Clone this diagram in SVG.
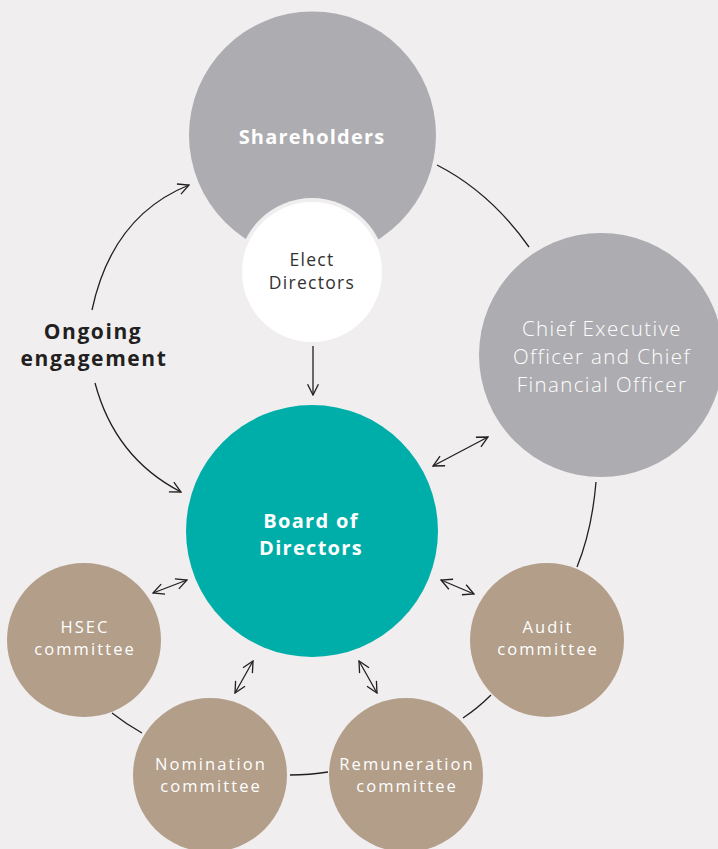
<svg xmlns="http://www.w3.org/2000/svg" width="718" height="849" viewBox="0 0 718 849">
<defs>
<marker id="ah" viewBox="0 0 12 12" refX="11" refY="6" markerWidth="13" markerHeight="13" markerUnits="userSpaceOnUse" orient="auto-start-reverse">
<path d="M1,1 L11,6 L1,11" fill="none" stroke="#231f20" stroke-width="1.2"/>
</marker>
<style>
.bg{fill:#f0eeef}
.gray{fill:#adacb0}
.teal{fill:#00aea9}
.tan{fill:#b29e89}
.t{font-family:"Open Sans","Liberation Sans",sans-serif;text-anchor:middle}
.w{fill:#ffffff}
.b{font-weight:700}
.l{font-weight:300}
.s{font-size:16.5px;letter-spacing:2.1px}
.c{fill:none;stroke:#231f20;stroke-width:1.3}
.a{marker-end:url(#ah)}
.d{marker-start:url(#ah);marker-end:url(#ah)}
</style>
</defs>
<rect class="bg" x="0" y="0" width="718" height="849"/>
<g id="connectors">
<path class="c" d="M437,165 Q490,192 529,247"/>
<path class="c" d="M596,482 Q592,530 577,567"/>
<path class="c" d="M491,695 Q478,708 463,718"/>
<path class="c" d="M328,772 Q310,775 290,775"/>
<path class="c" d="M142,733 Q126,724 112,713"/>
<path class="c a" d="M92,310 Q112,216 189,185"/>
<path class="c a" d="M95,383 Q115,458 181,492"/>
<path class="c a" d="M313,345 L313,395"/>
<path class="c d" d="M433,466 L488,437"/>
<path class="c d" d="M153,593 L187,580"/>
<path class="c d" d="M235,693 L253,661"/>
<path class="c d" d="M441,580 L474,594"/>
<path class="c d" d="M359,661 L377,693"/>
</g>
<g id="shareholders">
<circle class="gray" cx="312.5" cy="135" r="123.5"/>
<text class="t w b" x="312" y="144" font-size="20" letter-spacing="1.2">Shareholders</text>
</g>
<g id="elect-directors">
<circle class="bg" cx="312" cy="272" r="74"/>
<circle cx="312" cy="272" r="70" fill="#ffffff"/>
<text class="t" x="312" y="266" font-size="17.5" letter-spacing="1.3" fill="#333132">Elect</text>
<text class="t" x="312" y="289" font-size="17.5" letter-spacing="1.3" fill="#333132">Directors</text>
</g>
<g id="ceo-cfo">
<circle class="gray" cx="601" cy="355" r="122"/>
<text class="t w l" x="602" y="336" font-size="20.5" letter-spacing="1.4">Chief Executive</text>
<text class="t w l" x="602" y="364" font-size="20.5" letter-spacing="1.4">Officer and Chief</text>
<text class="t w l" x="602" y="392" font-size="20.5" letter-spacing="1.4">Financial Officer</text>
</g>
<g id="ongoing-engagement">
<text class="t b" x="93" y="339" font-size="21" letter-spacing="1.6" fill="#231f20">Ongoing</text>
<text class="t b" x="94" y="366" font-size="21" letter-spacing="1.6" fill="#231f20">engagement</text>
</g>
<g id="board">
<circle class="teal" cx="312" cy="531" r="126"/>
<text class="t w b" x="311" y="528" font-size="20" letter-spacing="1.3">Board of</text>
<text class="t w b" x="311" y="555" font-size="20" letter-spacing="1.3">Directors</text>
</g>
<g id="hsec">
<circle class="tan" cx="84" cy="640" r="77"/>
<text class="t w s" x="85" y="633">HSEC</text>
<text class="t w s" x="85" y="655">committee</text>
</g>
<g id="audit">
<circle class="tan" cx="547" cy="640" r="77"/>
<text class="t w s" x="548" y="633">Audit</text>
<text class="t w s" x="548" y="655">committee</text>
</g>
<g id="nomination">
<circle class="tan" cx="210" cy="775" r="77"/>
<text class="t w s" x="211" y="770">Nomination</text>
<text class="t w s" x="211" y="792">committee</text>
</g>
<g id="remuneration">
<circle class="tan" cx="406" cy="775" r="77"/>
<text class="t w s" x="407" y="770">Remuneration</text>
<text class="t w s" x="407" y="792">committee</text>
</g>
</svg>
